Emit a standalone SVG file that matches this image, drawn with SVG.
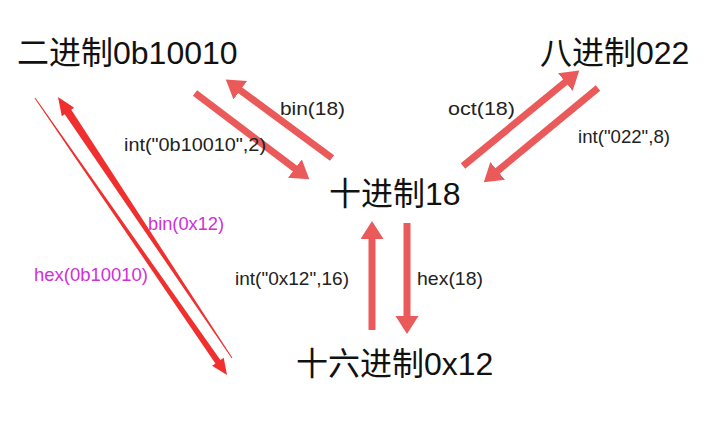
<svg xmlns="http://www.w3.org/2000/svg" width="720" height="425" viewBox="0 0 720 425">
  <style>
    .node { font-family: "Liberation Sans", "Noto Sans CJK SC", sans-serif; font-size: 32px; fill: #111; }
    .lbl { font-family: "Liberation Sans", "Noto Sans CJK SC", sans-serif; font-size: 19px; fill: #222; }
    .mag { font-family: "Liberation Sans", "Noto Sans CJK SC", sans-serif; font-size: 18.5px; fill: #d030d8; }
    .brush { stroke: #ea5a5a; stroke-width: 7; fill: none; marker-end: url(#head); }
    .red { fill: #f0302f; }
  </style>
  <defs>
    <marker id="head" markerUnits="userSpaceOnUse" markerWidth="19" markerHeight="24" refX="1" refY="11.5" orient="auto">
      <path d="M0,0 L18,11.5 L0,23 Z" fill="#ea5a5a"/>
    </marker>
  </defs>
  <rect width="720" height="425" fill="#ffffff"/>

  <g id="connectors">
    <line class="brush" x1="332" y1="158" x2="239.5" y2="89.7"/>
    <line class="brush" x1="195" y1="93" x2="295.7" y2="169.1"/>
    <line class="brush" x1="463" y1="166" x2="566.1" y2="81.4"/>
    <line class="brush" x1="598" y1="88" x2="496.9" y2="171.5"/>
    <line class="brush" x1="372" y1="330" x2="372" y2="238"/>
    <line class="brush" x1="407" y1="223" x2="407" y2="317"/>
    <polygon class="red" points="35.4,97.7 220.4,360.1 223.7,357.8 227,375 212.1,365.8 215.4,363.5 34.6,98.3"/>
    <polygon class="red" points="58,97 74.2,107.8 71.3,109.8 232.4,357.7 231.6,358.3 64.7,114.2 61.8,116.2"/>
  </g>

  <g id="labels">
    <text class="lbl" x="280" y="115" textLength="65" lengthAdjust="spacingAndGlyphs">bin(18)</text>
    <text class="lbl" x="124" y="151" textLength="142" lengthAdjust="spacingAndGlyphs">int("0b10010",2)</text>
    <text class="lbl" x="448" y="115" textLength="67" lengthAdjust="spacingAndGlyphs">oct(18)</text>
    <text class="lbl" x="578" y="143" textLength="92" lengthAdjust="spacingAndGlyphs">int("022",8)</text>
    <text class="lbl" x="235" y="285" textLength="114" lengthAdjust="spacingAndGlyphs">int("0x12",16)</text>
    <text class="lbl" x="417" y="285" textLength="66" lengthAdjust="spacingAndGlyphs">hex(18)</text>
    <text class="mag" x="148" y="230" textLength="76" lengthAdjust="spacingAndGlyphs">bin(0x12)</text>
    <text class="mag" x="34" y="281" textLength="114" lengthAdjust="spacingAndGlyphs">hex(0b10010)</text>
  </g>

  <g id="node-bin"><text class="node" x="17" y="64">二进制0b10010</text></g>
  <g id="node-oct"><text class="node" x="540" y="64">八进制022</text></g>
  <g id="node-dec"><text class="node" x="329" y="205">十进制18</text></g>
  <g id="node-hex"><text class="node" x="296" y="375">十六进制0x12</text></g>
</svg>
